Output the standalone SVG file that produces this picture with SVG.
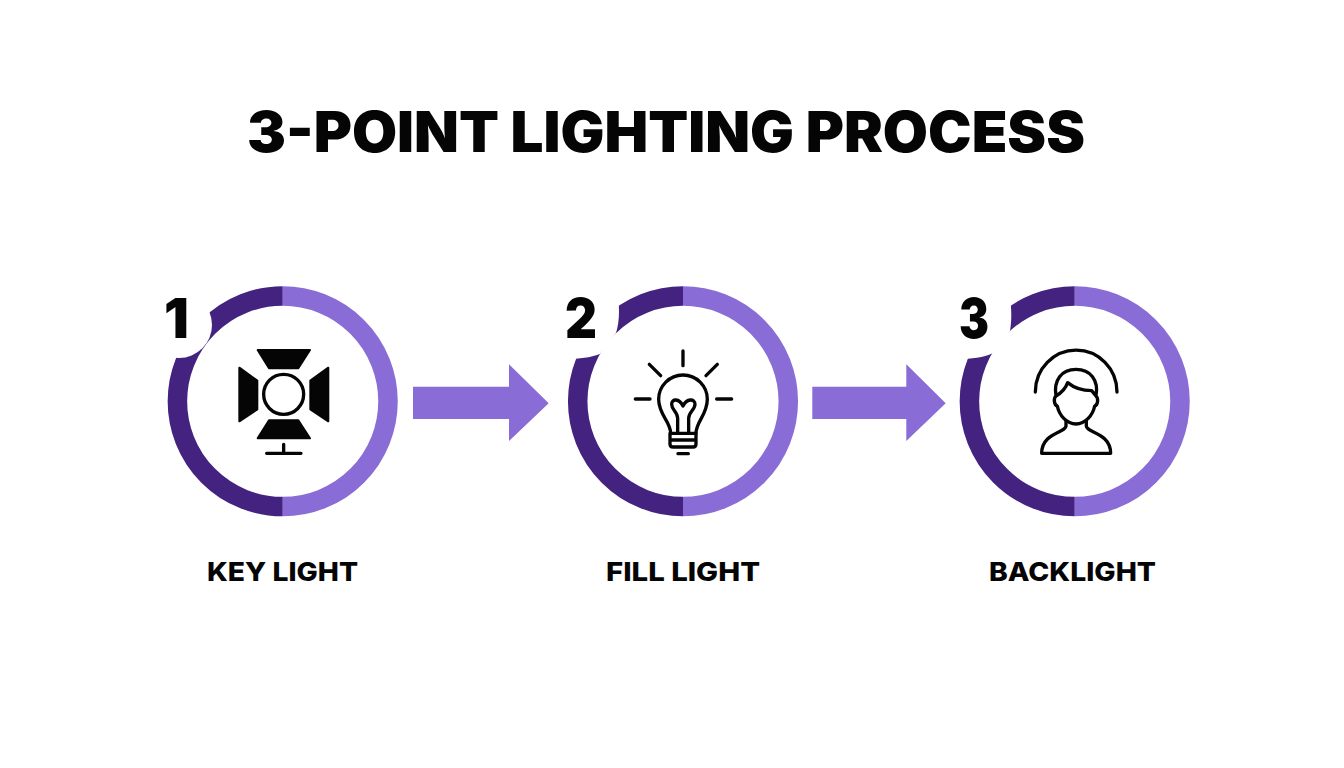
<svg xmlns="http://www.w3.org/2000/svg" width="1344" height="768" viewBox="0 0 1344 768">
<style>
text{font-family:"Inter","Liberation Sans",sans-serif;fill:#050505}
.title{font-size:56px;font-weight:900}
.label{font-size:26px;font-weight:800}
.num{font-size:55px;font-weight:900}
.dark{fill:none;stroke:#43237f;stroke-width:19.5}
.light{fill:none;stroke:#8a6cd6;stroke-width:19.5}
.arrow{fill:#8a6cd6}
.mask{fill:#fff}
.solid{fill:#050505;stroke:#050505;stroke-width:6;stroke-linejoin:round}
.line{fill:none;stroke:#050505;stroke-width:10;stroke-linecap:round;stroke-linejoin:round}
</style>
<rect width="1344" height="768" fill="#fff"/>
<text class="title" x="247" y="152" textLength="838" lengthAdjust="spacingAndGlyphs">3-POINT LIGHTING PROCESS</text>
<g id="connectors">
<path class="arrow" d="M413 386.7H509V364.3L548.7 403.3 509 441V419H413Z"/>
<path class="arrow" d="M812.3 386.7H906.3V364.3L945.7 403.3 906.3 441V419H812.3Z"/>
</g>
<g id="node-1">
<path class="light" d="M282.7 296A105.3 105.3 0 0 1 282.7 506.6"/>
<path class="dark" d="M282.7 506.6A105.3 105.3 0 0 1 282.7 296"/>
<circle class="mask" cx="179" cy="325" r="33"/>
<text class="num" x="164" y="338">1</text>
<g transform="translate(150 270) scale(.3333)">
<path class="solid" d="M323 240H480L445 295H357Z"/>
<path class="solid" d="M357 451H445L480 505H323Z"/>
<path class="solid" d="M268 293L322 332V418L268 454Z"/>
<path class="solid" d="M535 293L481 332V418L535 454Z"/>
<circle cx="401" cy="373" r="60" fill="none" stroke="#050505" stroke-width="10"/>
<path class="line" d="M401 523V550M350 550H453"/>
</g>
<text class="label" x="207" y="581" textLength="151" lengthAdjust="spacingAndGlyphs">KEY LIGHT</text>
</g>
<g id="node-2">
<path class="light" d="M683 296A105.3 105.3 0 0 1 683 506.6"/>
<path class="dark" d="M683 506.6A105.3 105.3 0 0 1 683 296"/>
<path class="mask" d="M566 285H616C620 305 620 320 616 333L600 354C590 358 580 358 566 360Z"/>
<text class="num" x="565" y="338" textLength="32" lengthAdjust="spacingAndGlyphs">2</text>
<g transform="translate(550 270) scale(.3333)">
<path class="line" d="M399 243V287M298 283L332 317M502 283L468 317M256 387H300M500 387H545"/>
<path class="line" d="M362 490C362 455 326 435 326 388A73 73 0 1 1 472 388C472 435 438 455 438 490"/>
<path class="line" d="M383 490V445C383 425 365 420 365 403C365 385 388 385 399 408C410 385 435 385 435 403C435 420 416 425 416 445V490"/>
<path class="line" d="M360 490H438V522Q438 531 429 531H369Q360 531 360 522ZM360 510H438M384 551H415"/>
</g>
<text class="label" x="606" y="581" textLength="154" lengthAdjust="spacingAndGlyphs">FILL LIGHT</text>
</g>
<g id="node-3">
<path class="light" d="M1074.7 296A105.3 105.3 0 0 1 1074.7 506.6"/>
<path class="dark" d="M1074.7 506.6A105.3 105.3 0 0 1 1074.7 296"/>
<path class="mask" d="M958 285H1008C1012 305 1012 320 1010 331L993 353C983 358 972 358 958 360Z"/>
<text class="num" x="959" y="338" textLength="30" lengthAdjust="spacingAndGlyphs">3</text>
<g transform="translate(945 270) scale(.3333)">
<path class="line" d="M271 366A122 125 0 0 1 516 366"/>
<path class="line" d="M333 378C325 330 350 298 393 298C436 298 462 330 453 378L440 362C410 362 385 352 368 338C362 355 350 368 333 378ZM333 378C325 385 327 405 337 408C342 435 365 462 393 462C421 462 444 435 449 408C459 405 461 385 453 378"/>
<path class="line" d="M363 452V468C363 488 290 488 290 550H497C497 488 424 488 424 468V452"/>
</g>
<text class="label" x="989" y="581" textLength="167" lengthAdjust="spacingAndGlyphs">BACKLIGHT</text>
</g>
</svg>
